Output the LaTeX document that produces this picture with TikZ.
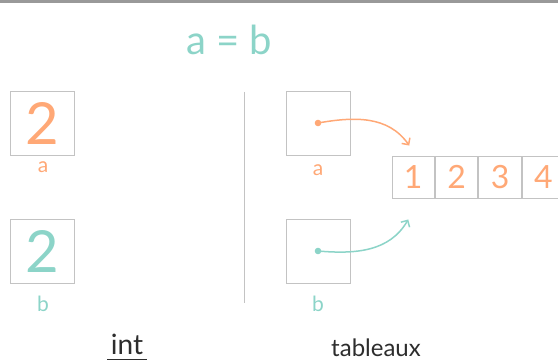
\documentclass[tikz,border=0pt]{standalone}
\usepackage{fontspec}
\setmainfont{Lato}
\usetikzlibrary{positioning,arrows.meta}
\definecolor{peche}{RGB}{255,168,118}
\definecolor{menthe}{RGB}{140,212,200}
\definecolor{grisbord}{RGB}{195,195,195}
\definecolor{encre}{RGB}{45,45,45}
\tikzset{
    caseval/.style={draw=grisbord, line width=0.9pt, minimum size=64pt, inner sep=0pt, font=\fontsize{58}{58}\selectfont},
    casetab/.style={draw=grisbord, line width=0.9pt, minimum width=42.5pt, minimum height=42pt, inner sep=0pt, text=peche, font=\fontsize{32}{32}\selectfont},
    nomvar/.style={anchor=base, inner sep=1pt, font=\fontsize{21}{21}\selectfont},
    fleche/.style={line width=1.5pt, -{Straight Barb[length=5pt, width=10pt]}},
}
\begin{document}
\begin{tikzpicture}[x=1pt, y=-1pt]
    \useasboundingbox (0,0) rectangle (558,363);
    \fill[gray!80] (0,0) rectangle (558,3);

    % Titre
    \node[text=menthe, font=\fontsize{40}{40}\selectfont] (titre) at (229,40) {a = b};

    % Cas int
    \node[caseval, text=peche] (va) at (42,123) {2};
    \node[caseval, text=menthe] (vb) at (42,251) {2};
    \node[nomvar, text=peche] (na) at (43,173) {a};
    \node[nomvar, text=menthe] (nb) at (43,312) {b};

    % Separation
    \coordinate (sep1) at (244,92);
    \coordinate (sep2) at (244,303);
    \draw[grisbord, line width=1pt] (sep1) -- (sep2);

    % Cas tableaux
    \node[caseval] (ta) at (318,123) {};
    \node[caseval] (tb) at (318,251) {};
    \node[nomvar, text=peche] (ma) at (318,176) {a};
    \node[nomvar, text=menthe] (mb) at (318,312) {b};

    \node[casetab] (c1) at (413.25,177) {1};
    \foreach \v [count=\i from 2, count=\j] in {2,3,4}
        \node[casetab, right=0pt of c\j] (c\i) {\v};

    % Pointeurs
    \coordinate (pa) at (ta.center);
    \coordinate (pb) at (tb.center);
    \coordinate (ha) at ([xshift=-4pt, yshift=10pt]c1.north);
    \coordinate (hb) at ([xshift=-5pt, yshift=-21pt]c1.south);
    \fill[peche] (pa) circle (3.3pt);
    \fill[menthe] (pb) circle (3.3pt);
    \draw[fleche, peche] (pa) to[out=10, in=125] (ha);
    \draw[fleche, menthe] (pb) to[out=-5, in=-120] (hb);

    % Legendes
    \node[text=encre, font=\fontsize{28}{28}\selectfont] (tint) at (127,344) {int};
    \draw[encre, line width=1pt] ([yshift=-2pt]tint.south west) -- ([yshift=-2pt]tint.south east);
    \node[text=encre, font=\fontsize{24}{24}\selectfont] (ttab) at (376,348) {tableaux};
\end{tikzpicture}
\end{document}
